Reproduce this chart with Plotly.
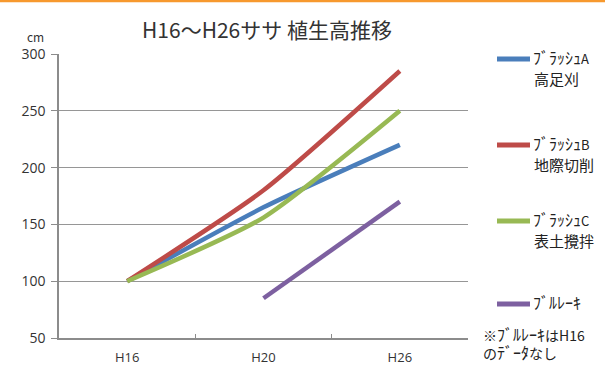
import plotly.graph_objects as go

# Survey years and bamboo-grass (ササ) height in cm per treatment
years = ["H16", "H20", "H26"]
brush_a = [100, 165, 220]      # ブラッシュA 高足刈
brush_b = [100, 180, 285]      # ブラッシュB 地際切削
brush_c = [100, 156, 250]      # ブラッシュC 表土攪拌
bull_rake = [None, 85, 170]    # ブルレーキ (no H16 data)

series_kana = ["ﾌﾞﾗｯｼｭ", "ﾌﾞﾗｯｼｭ", "ﾌﾞﾗｯｼｭ", "ﾌﾞﾙﾚｰｷ"]
series_tag = ["A", "B", "C", ""]
series_sub = ["高足刈", "地際切削", "表土攪拌", ""]
series_vals = [brush_a, brush_b, brush_c, bull_rake]
colors = ["#4A7EBB", "#BE4B48", "#98B954", "#7D60A0"]

FONT = "Noto Sans CJK JP"
W, H = 605, 365
L, R, T, B = 59, 137, 54, 27
PW, PH = W - L - R, H - T - B


def px(x):
    return (x - L) / PW


def py(y):
    return (H - B - y) / PH


def kana(s, size=16):
    # half-width katakana draw small in this font; enlarge them a little
    return f"<span style='font-size:{size}px'>{s}</span>"


fig = go.Figure()
for k, t, vals, c in zip(series_kana, series_tag, series_vals, colors):
    fig.add_trace(go.Scatter(
        x=years, y=vals, mode="lines", name=k + t,
        line=dict(color=c, width=4.5, shape="spline", smoothing=0.6),
        connectgaps=False, showlegend=False,
    ))

shapes = []
annotations = []

# top orange rule
shapes.append(dict(type="line", xref="paper", yref="paper",
                   x0=px(0), x1=px(W), y0=py(1), y1=py(1),
                   line=dict(color="#F7992E", width=2.5)))

# legend: swatch line + labels
legend_y = [59, 145, 221, 304]
for k, t, sub, c, ly in zip(series_kana, series_tag, series_sub, colors, legend_y):
    shapes.append(dict(type="line", xref="paper", yref="paper",
                       x0=px(497), x1=px(530), y0=py(ly), y1=py(ly),
                       line=dict(color=c, width=5)))
    annotations.append(dict(text=kana(k) + t, xref="paper", yref="paper",
                            x=px(531), y=py(ly - 2), xanchor="left", yanchor="middle",
                            showarrow=False, font=dict(family=FONT, size=13, color="#222")))
    if sub:
        annotations.append(dict(text=sub, xref="paper", yref="paper",
                                x=px(532), y=py(ly + 19), xanchor="left", yanchor="middle",
                                showarrow=False, font=dict(family=FONT, size=15, color="#222")))

# footnote (two lines in one block)
annotations.append(dict(text="※" + kana("ﾌﾞﾙﾚｰｷ") + "はH16<br>の" + kana("ﾃﾞｰﾀ") + "なし",
                        xref="paper", yref="paper", align="left",
                        x=px(481), y=py(343), xanchor="left", yanchor="middle",
                        showarrow=False, font=dict(family=FONT, size=14, color="#222")))

# unit label
annotations.append(dict(text="cm", xref="paper", yref="paper",
                        x=px(35), y=py(36), xanchor="center", yanchor="middle",
                        showarrow=False, font=dict(family=FONT, size=12, color="#333")))

fig.update_layout(
    width=W, height=H,
    margin=dict(l=L, r=R, t=T, b=B),
    paper_bgcolor="white", plot_bgcolor="white",
    title=dict(text="H16～H26ササ 植生高推移", x=267 / W, xref="container", xanchor="center",
               y=1 - 31 / H, yref="container", yanchor="middle",
               font=dict(family=FONT, size=21, color="#333")),
    shapes=shapes, annotations=annotations,
    font=dict(family=FONT, color="#333"),
)

fig.update_xaxes(
    type="category", range=[-0.5, 2.5], automargin=False,
    showline=True, linecolor="#8C8C8C", linewidth=1.5,
    ticks="inside", tickson="boundaries", ticklen=4, tickcolor="#8C8C8C",
    showgrid=False, tickfont=dict(family="Open Sans", size=13, color="#333"),
    ticklabelstandoff=7,
)
fig.update_yaxes(
    range=[50, 300], tickvals=[50, 100, 150, 200, 250, 300], automargin=False,
    showline=True, linecolor="#8C8C8C", linewidth=1.5,
    ticks="outside", ticklen=6, tickcolor="#8C8C8C",
    showgrid=True, gridcolor="#969696", gridwidth=1,
    zeroline=False, tickfont=dict(family="Open Sans", size=14, color="#333"),
    ticklabelstandoff=3,
)

fig.write_html("out.html")
